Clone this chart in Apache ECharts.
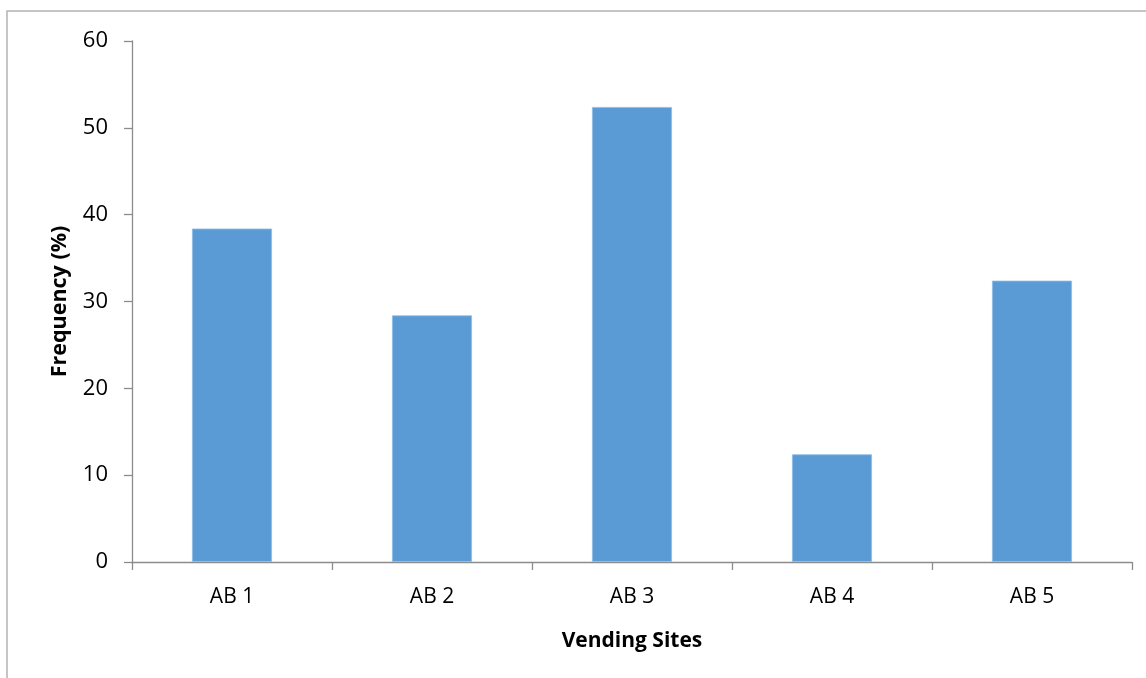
<!DOCTYPE html>
<html>
<head>
<meta charset="utf-8">
<script src="https://cdn.jsdelivr.net/npm/echarts@6/dist/echarts.min.js"></script>
<style>
html,body{margin:0;padding:0;background:#fff;}
#chart{width:1146px;height:678px;}
</style>
</head>
<body>
<div id="chart"></div>
<script>
var categories = ['AB 1', 'AB 2', 'AB 3', 'AB 4', 'AB 5'];
var frequency = [38.4, 28.4, 52.4, 12.4, 32.4];
var yTicks = [0, 10, 20, 30, 40, 50, 60];

var chart = echarts.init(document.getElementById('chart'));
var font = 'Open Sans, Liberation Sans, sans-serif';
chart.setOption({
  animation: false,
  graphic: [{
    type: 'rect',
    shape: {x: 7, y: 11, width: 1200, height: 1000},
    style: {fill: 'none', stroke: '#b3b3b3', lineWidth: 1.5},
    silent: true
  }],
  grid: {left: 132, right: 14, top: 41, bottom: 116},
  xAxis: {
    type: 'category',
    data: categories,
    name: 'Vending Sites',
    nameLocation: 'middle',
    nameGap: 69,
    nameTextStyle: {fontFamily: font, fontSize: 21, fontWeight: 'bold', color: '#000'},
    axisLine: {lineStyle: {color: '#8c8c8c', width: 1.3}},
    axisTick: {show: true, length: 8, lineStyle: {color: '#8c8c8c', width: 1.3}},
    axisLabel: {fontFamily: font, fontSize: 21, color: '#000', margin: 25}
  },
  yAxis: {
    type: 'value',
    min: yTicks[0],
    max: yTicks[yTicks.length - 1],
    interval: 10,
    name: 'Frequency (%)',
    nameLocation: 'middle',
    nameGap: 61,
    nameTextStyle: {fontFamily: font, fontSize: 21.5, fontWeight: 'bold', color: '#000'},
    axisLine: {show: true, lineStyle: {color: '#8c8c8c', width: 1.3}},
    axisTick: {show: true, length: 8, lineStyle: {color: '#8c8c8c', width: 1.3}},
    splitLine: {show: false},
    axisLabel: {fontFamily: font, fontSize: 22, color: '#000', margin: 24}
  },
  series: [{
    type: 'bar',
    data: frequency,
    barWidth: '40%',
    itemStyle: {color: '#5b9bd5', borderColor: '#8fbce6', borderWidth: 0.8}
  }]
});
</script>
</body>
</html>
